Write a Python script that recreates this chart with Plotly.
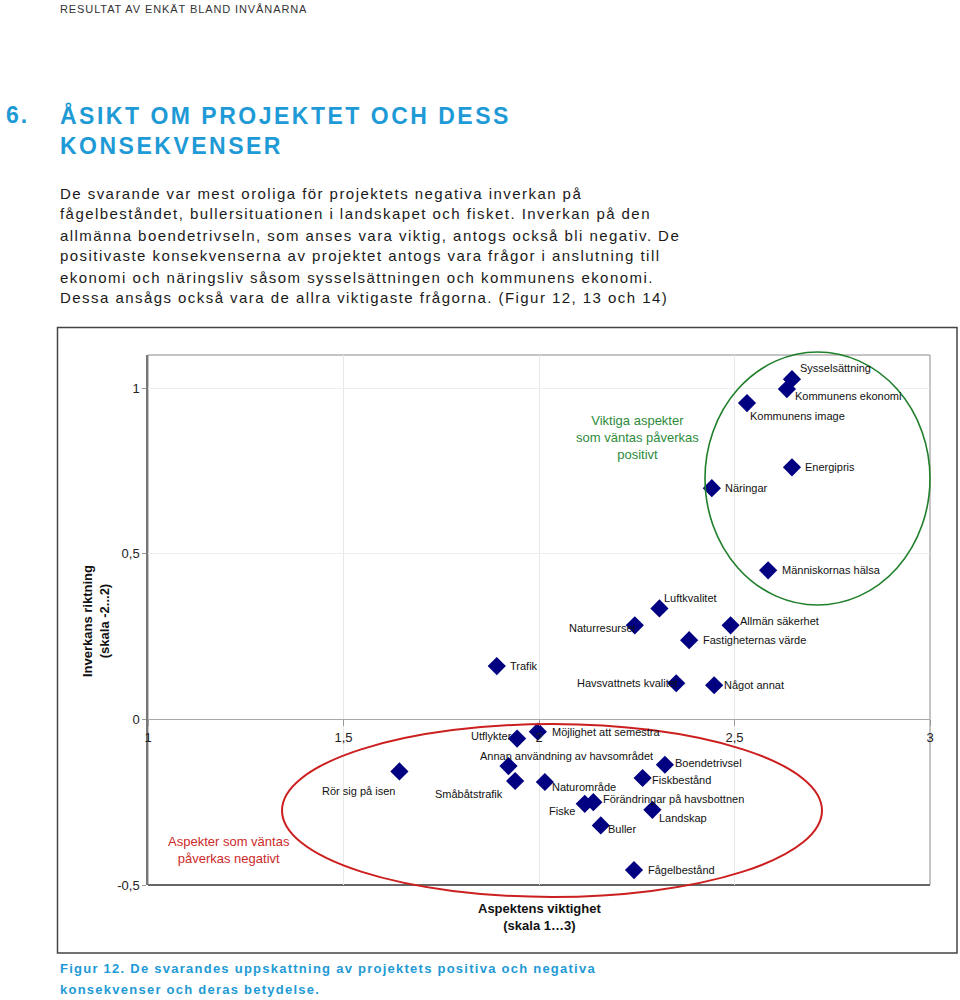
import plotly.graph_objects as go

# ---------------- data ----------------
aspects = [
    "Sysselsättning", "Kommunens ekonomi", "Kommunens image", "Energipris", "Näringar",
    "Människornas hälsa", "Luftkvalitet", "Naturresurser", "Allmän säkerhet",
    "Fastigheternas värde", "Trafik", "Havsvattnets kvalitet", "Något annat",
    "Möjlighet att semestra", "Utflykter", "Annan användning av havsområdet",
    "Småbåtstrafik", "Naturområde", "Boendetrivsel", "Fiskbestånd", "Fiske",
    "Förändringar på havsbottnen", "Landskap", "Buller", "Fågelbestånd", "Rör sig på isen",
]
importance = [
    2.647, 2.634, 2.532, 2.647, 2.442,
    2.586, 2.308, 2.245, 2.490,
    2.384, 1.892, 2.351, 2.448,
    1.997, 1.944, 1.922,
    1.939, 2.015, 2.322, 2.265, 2.117,
    2.139, 2.290, 2.158, 2.243, 1.643,
]
direction = [
    1.027, 0.997, 0.955, 0.761, 0.698,
    0.450, 0.335, 0.284, 0.284,
    0.239, 0.161, 0.109, 0.103,
    -0.037, -0.058, -0.141,
    -0.186, -0.189, -0.137, -0.177, -0.255,
    -0.250, -0.273, -0.320, -0.455, -0.157,
]
y_tickvals = [-0.5, 0, 0.5, 1]
y_ticktext = ["-0,5", "0", "0,5", "1"]

# label placement (style only): (anchor, dx px, dy px downward)
label_pos = [
    ("left", 6, -11), ("left", 6, 7), ("left", 1, 13), ("left", 11, 0), ("left", 11, 0),
    ("left", 12, 0), ("left", 3, -10), ("right", 4, 3), ("left", 7, -4),
    ("left", 12, 0), ("left", 11, 0), ("right", 4, 0), ("left", 8, 0),
    ("left", 12, 0), ("right", -3, -3), ("left", -31, -10),
    ("right", -10, 13), ("left", 5, 5), ("left", 8, -2), ("left", 7, 2), ("right", -8, 7),
    ("left", 8, -3), ("left", 5, 8), ("left", 5, 4), ("left", 12, 0), ("right", -2, 20),
]

header = "RESULTAT AV ENKÄT BLAND INVÅNARNA"
heading_num = "6."
heading_lines = ["ÅSIKT OM PROJEKTET OCH DESS", "KONSEKVENSER"]
body_lines = [
    "De svarande var mest oroliga för projektets negativa inverkan på",
    "fågelbeståndet, bullersituationen i landskapet och fisket. Inverkan på den",
    "allmänna boendetrivseln, som anses vara viktig, antogs också bli negativ. De",
    "positivaste konsekvenserna av projektet antogs vara frågor i anslutning till",
    "ekonomi och näringsliv såsom sysselsättningen och kommunens ekonomi.",
    "Dessa ansågs också vara de allra viktigaste frågorna. (Figur 12, 13 och 14)",
]
caption_lines = [
    "Figur 12. De svarandes uppskattning av projektets positiva och negativa",
    "konsekvenser och deras betydelse.",
]
x_title = "Aspektens viktighet<br>(skala 1…3)"
y_title = "Inverkans riktning<br>(skala -2...2)"
pos_text = "Viktiga aspekter<br>som väntas påverkas<br>positivt"
neg_text = "Aspekter som väntas<br>påverkas negativt"

# ---------------- layout geometry ----------------
W, H = 960, 1000
L, R, T, B = 148, 930, 355, 885


def X(px):
    return (px - L) / (R - L)


def Y(py):
    return (B - py) / (B - T)


BLUE = "#1e9ad6"
FONT = "Arial, Liberation Sans, sans-serif"

fig = go.Figure()
fig.add_trace(go.Scatter(
    x=importance, y=direction, mode="markers",
    marker=dict(symbol="diamond", size=14, color="#000080", line=dict(width=0)),
    text=aspects, hoverinfo="text", showlegend=False, cliponaxis=False,
))

ann = []
for name, xv, yv, (anc, dx, dy) in zip(aspects, importance, direction, label_pos):
    ann.append(dict(x=xv, y=yv, xref="x", yref="y", text=name, showarrow=False,
                    xanchor=anc, yanchor="middle", xshift=dx, yshift=-dy,
                    font=dict(family=FONT, size=11, color="#111")))


def ptext(px, py, text, size, color="#1a1a1a", bold=False, anchor="left", spacing=None, angle=0):
    t = f"<b>{text}</b>" if bold else text
    if spacing is not None:
        t = f'<span style="letter-spacing:{spacing}px">{t}</span>'
    ann.append(dict(x=X(px), y=Y(py), xref="paper", yref="paper", text=t, showarrow=False,
                    xanchor=anchor, yanchor="middle", textangle=angle,
                    font=dict(family=FONT, size=size, color=color)))


ptext(58, 9, header, 11, color="#333333", spacing=0.9)
ptext(4, 115, heading_num, 23, color=BLUE, bold=True, spacing=2.0)
for i, line in enumerate(heading_lines):
    ptext(58, 115 + 31 * i, line, 23, color=BLUE, bold=True, spacing=2.5)
for i, line in enumerate(body_lines):
    ptext(58, 193 + 21 * i, line, 15, color="#1a1a1a", spacing=1.45)
for i, line in enumerate(caption_lines):
    ptext(58, 968 + 21 * i, line, 13, color=BLUE, bold=True, spacing=1.25)

ptext(637, 437, pos_text, 13, color="#2e8b3a", anchor="center")
ptext(229, 850, neg_text, 13, color="#cc2a2a", anchor="center")
ptext(539, 917, x_title, 13, color="#111", bold=True, anchor="center")
ptext(96, 621, y_title, 13, color="#111", bold=True, anchor="center", angle=-90)

shapes = [
    # outer frame
    dict(type="rect", xref="paper", yref="paper", x0=X(57.5), x1=X(957), y0=Y(953), y1=Y(327.5),
         line=dict(color="#444444", width=1.5), layer="below"),
    # plot border
    dict(type="rect", xref="paper", yref="paper", x0=0, x1=1, y0=0, y1=1,
         line=dict(color="#8a8a8a", width=1), layer="below"),
    dict(type="line", xref="paper", yref="paper", x0=0, x1=1, y0=0, y1=0,
         line=dict(color="#666666", width=2), layer="below"),
    # ellipses
    dict(type="circle", xref="paper", yref="paper", x0=X(705), x1=X(930), y0=Y(605), y1=Y(352),
         line=dict(color="#1f7f2a", width=1.6)),
    dict(type="circle", xref="paper", yref="paper", x0=X(282), x1=X(822), y0=Y(897), y1=Y(724),
         line=dict(color="#cc1f1f", width=2)),
]

fig.update_layout(
    width=W, height=H,
    margin=dict(l=L, r=W - R, t=T, b=H - B, pad=0),
    paper_bgcolor="white", plot_bgcolor="white",
    separators=", ",
    font=dict(family=FONT, size=13, color="#222"),
    annotations=ann, shapes=shapes,
    xaxis=dict(range=[1, 3], dtick=0.5, tick0=1, anchor="free", position=0.5 / 1.6,
               showline=True, linecolor="#a8a8a8", linewidth=1,
               showgrid=True, gridcolor="#e8e8e8", zeroline=False,
               ticks="outside", ticklen=6, tickcolor="#999",
               tickfont=dict(size=13, color="#222")),
    yaxis=dict(range=[-0.5, 1.1], tickvals=y_tickvals, ticktext=y_ticktext,
               showline=True, linecolor="#777777", linewidth=1.5,
               showgrid=True, gridcolor="#eeeeee", zeroline=False,
               ticks="outside", ticklen=4, tickcolor="#999",
               tickfont=dict(size=13, color="#222")),
)

fig.write_html("out.html", config={"displayModeBar": False},
               post_script="document.body.style.margin='0';")
